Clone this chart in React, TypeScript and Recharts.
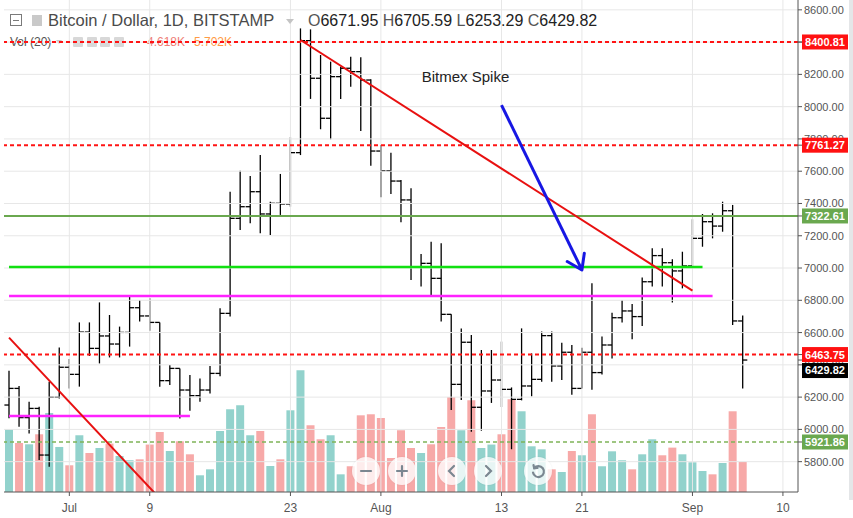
import React from 'react';
import { ComposedChart, Bar, Cell, XAxis, YAxis, ReferenceLine } from 'recharts';

const FONT = '"Liberation Sans", Arial, sans-serif';

// daily bars, BITSTAMP BTC/USD, Jun 25 -> Sep 6 2018
const opens = [
  6151, 6254, 6073, 6130, 5841, 6199, 6385, 6341, 6603, 6502,
  6579, 6529, 6601, 6754, 6703, 6663, 6302, 6378, 6244, 6209,
  6244, 6347, 6719, 7308, 7380, 7473, 7335, 7401, 7397, 7715,
  8409, 8176, 7928, 8186, 8238, 8217, 8165, 7725, 7603, 7539,
  7422, 7008, 7029, 6936, 6713, 6279, 6540, 6137, 6238, 6306,
  6248, 6186, 6269, 6310, 6581, 6393, 6478, 6254, 6478, 6352,
  6523, 6692, 6734, 6699, 6915, 7077, 7033, 6982, 7013, 7184,
  7287, 7260, 7355, 6671.95,
];
const highs = [
  6364, 6269, 6172, 6141, 6296, 6508, 6436, 6663, 6663, 6787,
  6709, 6637, 6822, 6802, 6812, 6663, 6399, 6378, 6337, 6316,
  6393, 6750, 7473, 7603, 7570, 7701, 7411, 7583, 7810, 8485,
  8479, 8320, 8279, 8248, 8310, 8306, 8170, 7762, 7715, 7545,
  7494, 7087, 7163, 7153, 6713, 6626, 6585, 6492, 6492, 6544,
  6260, 6626, 6471, 6606, 6606, 6537, 6523, 6506, 6905, 6575,
  6723, 6802, 6777, 6942, 7122, 7122, 7054, 7101, 7302, 7335,
  7339, 7411, 7391, 6705.59,
];
const lows = [
  6069, 6017, 5975, 5810, 5769, 6192, 6254, 6265, 6455, 6409,
  6446, 6446, 6513, 6668, 6612, 6265, 6275, 6068, 6116, 6172,
  6223, 6330, 6700, 7236, 7277, 7215, 7205, 7329, 7380, 7700,
  8048, 7860, 7798, 8048, 8124, 7849, 7634, 7438, 7459, 7283,
  6926, 6885, 6827, 6668, 6120, 6182, 5986, 5992, 6164, 6138,
  5877, 6180, 6205, 6296, 6296, 6306, 6215, 6254, 6246, 6340,
  6440, 6663, 6558, 6641, 6885, 6885, 6787, 6874, 7008, 7132,
  7184, 7225, 6647, 6253.29,
];
const closes = [
  6254, 6073, 6130, 5841, 6199, 6385, 6341, 6603, 6502, 6579,
  6529, 6601, 6754, 6703, 6663, 6302, 6378, 6244, 6209, 6244,
  6347, 6719, 7308, 7380, 7473, 7335, 7401, 7397, 7715, 8409,
  8176, 7928, 8186, 8238, 8217, 8165, 7725, 7603, 7539, 7422,
  7008, 7029, 6936, 6713, 6279, 6540, 6137, 6238, 6306, 6248,
  6186, 6269, 6310, 6581, 6393, 6478, 6254, 6478, 6352, 6523,
  6692, 6734, 6699, 6915, 7077, 7033, 6982, 7013, 7184, 7287,
  7260, 7355, 6672, 6429.82,
];
// volume in thousands
const volumes = [
  9.65, 7.54, 7.34, 8.88, 12.16, 6.93, 4.11, 8.73, 6.0, 6.77,
  7.45, 5.54, 4.88, 5.03, 7.3, 9.23, 6.31, 7.8, 5.8, 2.57,
  3.49, 9.39, 12.73, 13.34, 8.73, 9.39, 4.0, 5.03, 12.57, 18.73,
  10.27, 8.11, 8.73, 2.72, 3.96, 11.8, 11.96, 11.39, 5.23, 9.5,
  6.77, 6.0, 7.34, 10.0, 14.62, 9.5, 14.11, 6.77, 7.3, 8.88,
  14.27, 12.42, 7.03, 6.57, 3.49, 3.08, 6.31, 5.65, 11.96, 3.96,
  6.26, 4.88, 3.49, 5.8, 8.11, 5.65, 6.83, 5.8, 4.57, 3.23,
  2.72, 4.46, 12.42, 4.618,
];

// category axis runs a few empty days past the last bar
const START = Date.UTC(2018, 5, 25);
const DAY_COUNT = 79;
const days = Array.from({ length: DAY_COUNT }, (_, i) => {
  const d = new Date(START + i * 86400000);
  return `${d.getUTCMonth() + 1}-${d.getUTCDate()}`;
});

const dateTicks = [
  { day: '7-1', label: 'Jul' },
  { day: '7-9', label: '9' },
  { day: '7-23', label: '23' },
  { day: '8-1', label: 'Aug' },
  { day: '8-13', label: '13' },
  { day: '8-21', label: '21' },
  { day: '9-1', label: 'Sep' },
  { day: '9-10', label: '10' },
];
const priceTicks = [5800, 6000, 6200, 6400, 6600, 6800, 7000, 7200, 7400, 7600, 7800, 8000, 8200, 8400, 8600];

const redLevels = [8400.81, 7761.27, 6463.75];
const greenLevel = 7322.61;
const greenDashedLevel = 5921.86;
const lastPrice = 6429.82;

const brightGreenLine = { from: '6-25', to: '9-2', price: 7006 };
const magentaLine = { from: '6-25', to: '9-3', price: 6827 };
const magentaLowLine = { from: '6-25', to: '7-13', price: 6083 };
const trendDown = [{ day: '7-24', price: 8413 }, { day: '9-1', price: 6860 }];
const trendLeft = [{ day: '6-25', price: 6569 }, { day: '7-10', price: 5572 }];
const arrowLine = [{ day: '8-13', price: 8010 }, { day: '8-21', price: 6988 }];

const data = days.map((d, i) => ({
  d,
  o: opens[i],
  h: highs[i],
  l: lows[i],
  c: closes[i],
  v: volumes[i],
}));

const tickLabelByDay: Record<string, string> = {};
dateTicks.forEach((t) => { tickLabelByDay[t.day] = t.label; });

// price tags on the right scale, drawn after the plain tick labels so they sit on top
const tags: Record<string, { bg: string; shift: number }> = {};
redLevels.forEach((p) => { tags[String(p)] = { bg: '#ff1111', shift: 0 }; });
tags[String(greenLevel)] = { bg: '#6aa84f', shift: 0 };
tags[String(greenDashedLevel)] = { bg: '#6aa84f', shift: 0 };
tags[String(lastPrice)] = { bg: '#000', shift: 10.5 };
const axisTicks = [...priceTicks, ...redLevels, greenLevel, greenDashedLevel, lastPrice];

const OhlcShape = (props: any) => {
  const { x, y, width, height, payload } = props;
  if (payload == null || payload.h == null) return null;
  const top = Math.min(y, y + height);
  const bot = Math.max(y, y + height);
  const span = payload.h - payload.l || 1;
  const py = (v: number) => top + ((payload.h - v) / span) * (bot - top);
  const cx = x + width / 2;
  const t = 4.6;
  return (
    <g stroke="#000" strokeWidth={1.3}>
      <line x1={cx} x2={cx} y1={top} y2={bot} />
      <line x1={cx - t} x2={cx} y1={py(payload.o)} y2={py(payload.o)} />
      <line x1={cx} x2={cx + t} y1={py(payload.c)} y2={py(payload.c)} />
    </g>
  );
};

const DateTick = (props: any) => {
  const { x, y, payload } = props;
  const label = tickLabelByDay[payload.value];
  if (!label) return null;
  return (
    <g>
      <line x1={x} x2={x} y1={y - 10} y2={y - 6} stroke="#555" />
      <text x={x} y={y} dy={9.5} textAnchor="middle" fill="#555" fontSize={12}>
        {label}
      </text>
    </g>
  );
};

const PriceTick = (props: any) => {
  const { x, y, payload } = props;
  const tag = tags[String(payload.value)];
  if (tag) {
    const left = x - 2;
    const cy = y + tag.shift;
    return (
      <g>
        <rect x={left} y={cy - 7.5} width={46} height={15} fill={tag.bg} />
        <text x={left + 23} y={cy} dy="0.36em" textAnchor="middle" fill="#fff" fontSize={11} fontWeight="bold">
          {Number(payload.value).toFixed(2)}
        </text>
      </g>
    );
  }
  return (
    <text x={x} y={y} dy="0.36em" textAnchor="start" fill="#555" fontSize={11}>
      {Number(payload.value).toFixed(2)}
    </text>
  );
};

const abs = (left: number, top: number, extra: React.CSSProperties = {}): React.CSSProperties => ({
  position: 'absolute',
  left,
  top,
  whiteSpace: 'nowrap',
  ...extra,
});

const ZoomButton = ({ cx, children }: { cx: number; children: React.ReactNode }) => (
  <div
    style={abs(cx - 14, 457, {
      width: 28,
      height: 28,
      borderRadius: 14,
      background: 'rgba(255,255,255,0.78)',
      boxShadow: '0 0 2px rgba(0,0,0,0.08)',
      display: 'flex',
      alignItems: 'center',
      justifyContent: 'center',
    })}
  >
    <svg width={16} height={16} viewBox="0 0 16 16" fill="none" stroke="#7b8791" strokeWidth={2.2} strokeLinecap="round">
      {children}
    </svg>
  </div>
);

export default function App() {
  return (
    <div style={{ position: 'absolute', left: 0, top: 0, width: 853, height: 518, background: '#fff', fontFamily: FONT, overflow: 'hidden' }}>
      <svg width={0} height={0} style={{ position: 'absolute' }}>
        <defs>
          <marker id="arrowHead" markerWidth={24} markerHeight={24} viewBox="-2 -2 24 24" refX={15} refY={10} orient="auto" markerUnits="userSpaceOnUse">
            <path d="M1,0.5 L15,10 L1,19.5" fill="none" stroke="#1717e3" strokeWidth={3} strokeLinecap="round" strokeLinejoin="round" />
          </marker>
        </defs>
      </svg>

      {/* volume legend sits under the chart layer */}
      <div style={abs(10, 35.5, { fontSize: 12, lineHeight: '12px', color: '#555', zIndex: 0 })}>Vol (20)</div>
      <div style={abs(56, 40, { width: 0, height: 0, borderLeft: '3px solid transparent', borderRight: '3px solid transparent', borderTop: '4px solid #c8c8c8' })} />
      {[73, 86.5, 100, 113.5].map((x) => (
        <div key={x} style={abs(x, 37, { width: 10, height: 10, background: '#d8d8d8', borderRadius: 1 })} />
      ))}
      <div style={abs(147, 35.5, { fontSize: 12, lineHeight: '12px', color: '#ee7d76' })}>4.618K</div>
      <div style={abs(194, 35.5, { fontSize: 12, lineHeight: '12px', color: '#ff9b45' })}>5.702K</div>

      <div style={abs(0, 0, { zIndex: 1 })}>
        <ComposedChart width={853} height={518} data={data} margin={{ top: 0, right: 0, bottom: 0, left: 4 }} barCategoryGap={1}>
          <XAxis
            xAxisId="p"
            dataKey="d"
            type="category"
            interval={0}
            height={26}
            tickLine={false}
            tickSize={4}
            tickMargin={6}
            axisLine={{ stroke: '#555' }}
            tick={DateTick}
          />
          <XAxis xAxisId="v" dataKey="d" type="category" hide />
          <YAxis
            yAxisId="p"
            orientation="right"
            width={55}
            type="number"
            domain={[5612, 8661]}
            allowDataOverflow
            ticks={axisTicks}
            interval={0}
            tick={PriceTick}
            tickSize={4}
            tickMargin={2}
            axisLine={{ stroke: '#555' }}
            tickLine={{ stroke: '#555' }}
          />
          <YAxis yAxisId="v" hide type="number" domain={[0, 75.7]} allowDataOverflow />

          {priceTicks.map((p) => (
            <ReferenceLine key={p} xAxisId="p" yAxisId="p" y={p} stroke="#e7e7e7" />
          ))}
          {dateTicks.map((t) => (
            <ReferenceLine key={t.day} xAxisId="p" yAxisId="p" x={t.day} stroke="#e7e7e7" />
          ))}

          <Bar xAxisId="v" yAxisId="v" dataKey="v" isAnimationActive={false}>
            {data.map((row) => (
              <Cell key={row.d} fill={row.c >= row.o ? '#92d2cc' : '#f7a9a8'} />
            ))}
          </Bar>

          {redLevels.map((p) => (
            <ReferenceLine key={p} xAxisId="p" yAxisId="p" y={p} stroke="#ff1414" strokeWidth={2} strokeDasharray="4 3" />
          ))}
          <ReferenceLine xAxisId="p" yAxisId="p" y={greenLevel} stroke="#6aa84f" strokeWidth={2} />
          <ReferenceLine xAxisId="p" yAxisId="p" y={greenDashedLevel} stroke="#7fb458" strokeWidth={1.6} strokeDasharray="4 3" />

          <ReferenceLine
            xAxisId="p"
            yAxisId="p"
            segment={[{ x: brightGreenLine.from, y: brightGreenLine.price }, { x: brightGreenLine.to, y: brightGreenLine.price }]}
            stroke="#11e011"
            strokeWidth={2.5}
          />
          <ReferenceLine
            xAxisId="p"
            yAxisId="p"
            segment={[{ x: magentaLine.from, y: magentaLine.price }, { x: magentaLine.to, y: magentaLine.price }]}
            stroke="#ff22ff"
            strokeWidth={2.4}
          />
          <ReferenceLine
            xAxisId="p"
            yAxisId="p"
            segment={[{ x: magentaLowLine.from, y: magentaLowLine.price }, { x: magentaLowLine.to, y: magentaLowLine.price }]}
            stroke="#ff22ff"
            strokeWidth={2.4}
          />
          <ReferenceLine
            xAxisId="p"
            yAxisId="p"
            segment={trendDown.map((pt) => ({ x: pt.day, y: pt.price }))}
            stroke="#e81010"
            strokeWidth={2}
          />
          <ReferenceLine
            xAxisId="p"
            yAxisId="p"
            ifOverflow="hidden"
            segment={trendLeft.map((pt) => ({ x: pt.day, y: pt.price }))}
            stroke="#e81010"
            strokeWidth={2}
          />

          <Bar
            xAxisId="p"
            yAxisId="p"
            dataKey={(row: any) => (row.h == null ? undefined : [row.l, row.h])}
            shape={OhlcShape}
            isAnimationActive={false}
          />

          <ReferenceLine
            xAxisId="p"
            yAxisId="p"
            segment={arrowLine.map((pt) => ({ x: pt.day, y: pt.price }))}
            shape={(p: any) => (
              <line x1={p.x1} y1={p.y1} x2={p.x2} y2={p.y2} stroke="#1717e3" strokeWidth={3} markerEnd="url(#arrowHead)" />
            )}
          />
        </ComposedChart>
      </div>

      {/* symbol legend */}
      <div style={abs(10, 14, { width: 10, height: 10, border: '1px solid #7a7a7a', zIndex: 2 })}>
        <div style={abs(2, 4.5, { width: 6, height: 1, background: '#7a7a7a' })} />
      </div>
      <div style={abs(32, 15, { width: 10, height: 11, background: '#c9c9c9', zIndex: 2 })} />
      <div style={abs(48, 12.3, { fontSize: 16.5, lineHeight: '16.5px', color: '#4a4a4a', zIndex: 2 })}>Bitcoin / Dollar, 1D, BITSTAMP</div>
      <div style={abs(286, 19, { width: 0, height: 0, borderLeft: '4px solid transparent', borderRight: '4px solid transparent', borderTop: '5px solid #c4c4c4', zIndex: 2 })} />
      <div style={abs(308, 12.5, { fontSize: 16, lineHeight: '16px', color: '#222', zIndex: 2 })}>
        <span style={{ color: '#555' }}>O</span>6671.95 <span style={{ color: '#555' }}>H</span>6705.59{' '}
        <span style={{ color: '#555' }}>L</span>6253.29 <span style={{ color: '#555' }}>C</span>6429.82
      </div>

      <div style={abs(421.7, 68.5, { fontSize: 15, lineHeight: '15px', color: '#222', zIndex: 2 })}>Bitmex Spike</div>

      <div style={{ zIndex: 3, position: 'absolute', left: 0, top: 0 }}>
        <ZoomButton cx={366}>
          <line x1={3} y1={8} x2={13} y2={8} />
        </ZoomButton>
        <ZoomButton cx={402}>
          <line x1={3} y1={8} x2={13} y2={8} />
          <line x1={8} y1={3} x2={8} y2={13} />
        </ZoomButton>
        <ZoomButton cx={452}>
          <polyline points="10,3 5,8 10,13" />
        </ZoomButton>
        <ZoomButton cx={488}>
          <polyline points="6,3 11,8 6,13" />
        </ZoomButton>
        <ZoomButton cx={537.5}>
          <path d="M4.2,5 A5.5,5.5 0 1 1 3,9.5" />
          <polyline points="3.5,2 4.2,5.4 7.6,5" />
        </ZoomButton>
      </div>

      <div style={abs(849, 0, { width: 4, height: 500, background: '#e4e6e8', zIndex: 3 })} />
    </div>
  );
}
